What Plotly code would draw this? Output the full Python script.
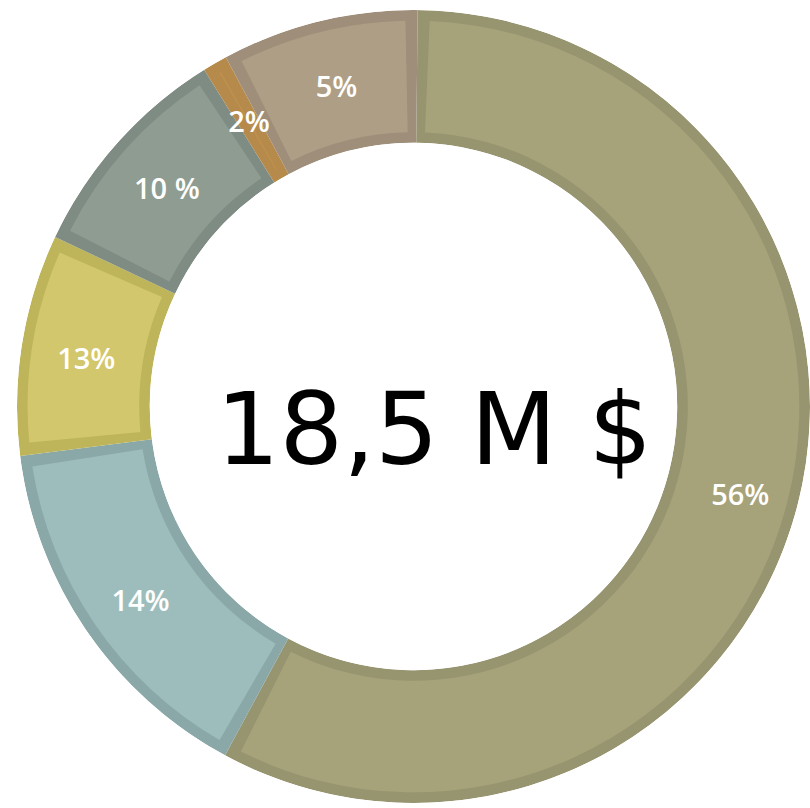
import plotly.graph_objects as go

# Data (slice shares as drawn, and their printed labels)
labels = ["56%", "14%", "13%", "10 %", "2%", "5%"]
shares = [57.6, 15.1, 9.0, 9.1, 1.0, 8.0]
fill_colors = ["#A6A27A", "#9DBDBC", "#D2C76C", "#8F9C92", "#C09250", "#AE9E86"]
edge_colors = ["#979470", "#8AA8A8", "#BEB55A", "#7F8C83", "#B68A4A", "#9E8E7A"]
center_text = "18,5 M $"
start_angle = 0.6

total = sum(shares)
widths = [s / total * 360 for s in shares]
mids = []
acc = start_angle
for w in widths:
    mids.append(acc + w / 2)
    acc += w

inset_deg = 1.8
inset_r = 0.08

fig = go.Figure()
fig.add_trace(go.Barpolar(
    r=[1] * len(shares), theta=mids, width=widths,
    marker=dict(color=edge_colors, line=dict(width=0)),
    hoverinfo="skip", showlegend=False, subplot="polar",
))
fig.add_trace(go.Barpolar(
    r=[1 - 2 * inset_r] * len(shares), base=[inset_r] * len(shares),
    theta=mids, width=[max(w - 2 * inset_deg, 0.2) for w in widths],
    marker=dict(color=fill_colors, line=dict(width=0)),
    hoverinfo="skip", showlegend=False, subplot="polar",
))
# labels on an overlaid polar frame (slightly offset, like the original's text placement)
fig.add_trace(go.Scatterpolar(
    r=[0.88] * len(shares), theta=mids, mode="text", text=labels,
    textfont=dict(family="Open Sans", size=29, color="white", weight=600),
    hoverinfo="skip", showlegend=False, subplot="polar2",
))

W, H = 810, 808
c2x, c2y, R2 = 416.5, 414.5, 380

axis_off = dict(visible=False, showgrid=False)
fig.update_layout(
    width=W, height=H,
    margin=dict(l=0, r=0, t=0, b=0),
    paper_bgcolor="white",
    polar=dict(
        domain=dict(x=[17 / W, 1.0], y=[1 - 803 / H, 1 - 10 / H]),
        hole=0.665,
        bgcolor="white",
        bargap=0,
        radialaxis=dict(range=[0, 1], **axis_off),
        angularaxis=dict(rotation=90, direction="clockwise", **axis_off),
    ),
    polar2=dict(
        domain=dict(x=[(c2x - R2) / W, (c2x + R2) / W],
                    y=[1 - (c2y + R2) / H, 1 - (c2y - R2) / H]),
        bgcolor="rgba(0,0,0,0)",
        radialaxis=dict(range=[0, 1], **axis_off),
        angularaxis=dict(rotation=90, direction="clockwise", **axis_off),
    ),
    annotations=[dict(
        text=center_text, x=434 / W, y=1 - 429 / H, xref="paper", yref="paper",
        showarrow=False, font=dict(family="DejaVu Sans", size=100, color="black"),
        xanchor="center", yanchor="middle",
    )],
)

fig.write_html(
    "out.html",
    config={"displayModeBar": False},
    post_script="document.body.style.margin='0';document.body.style.overflow='hidden';",
)
